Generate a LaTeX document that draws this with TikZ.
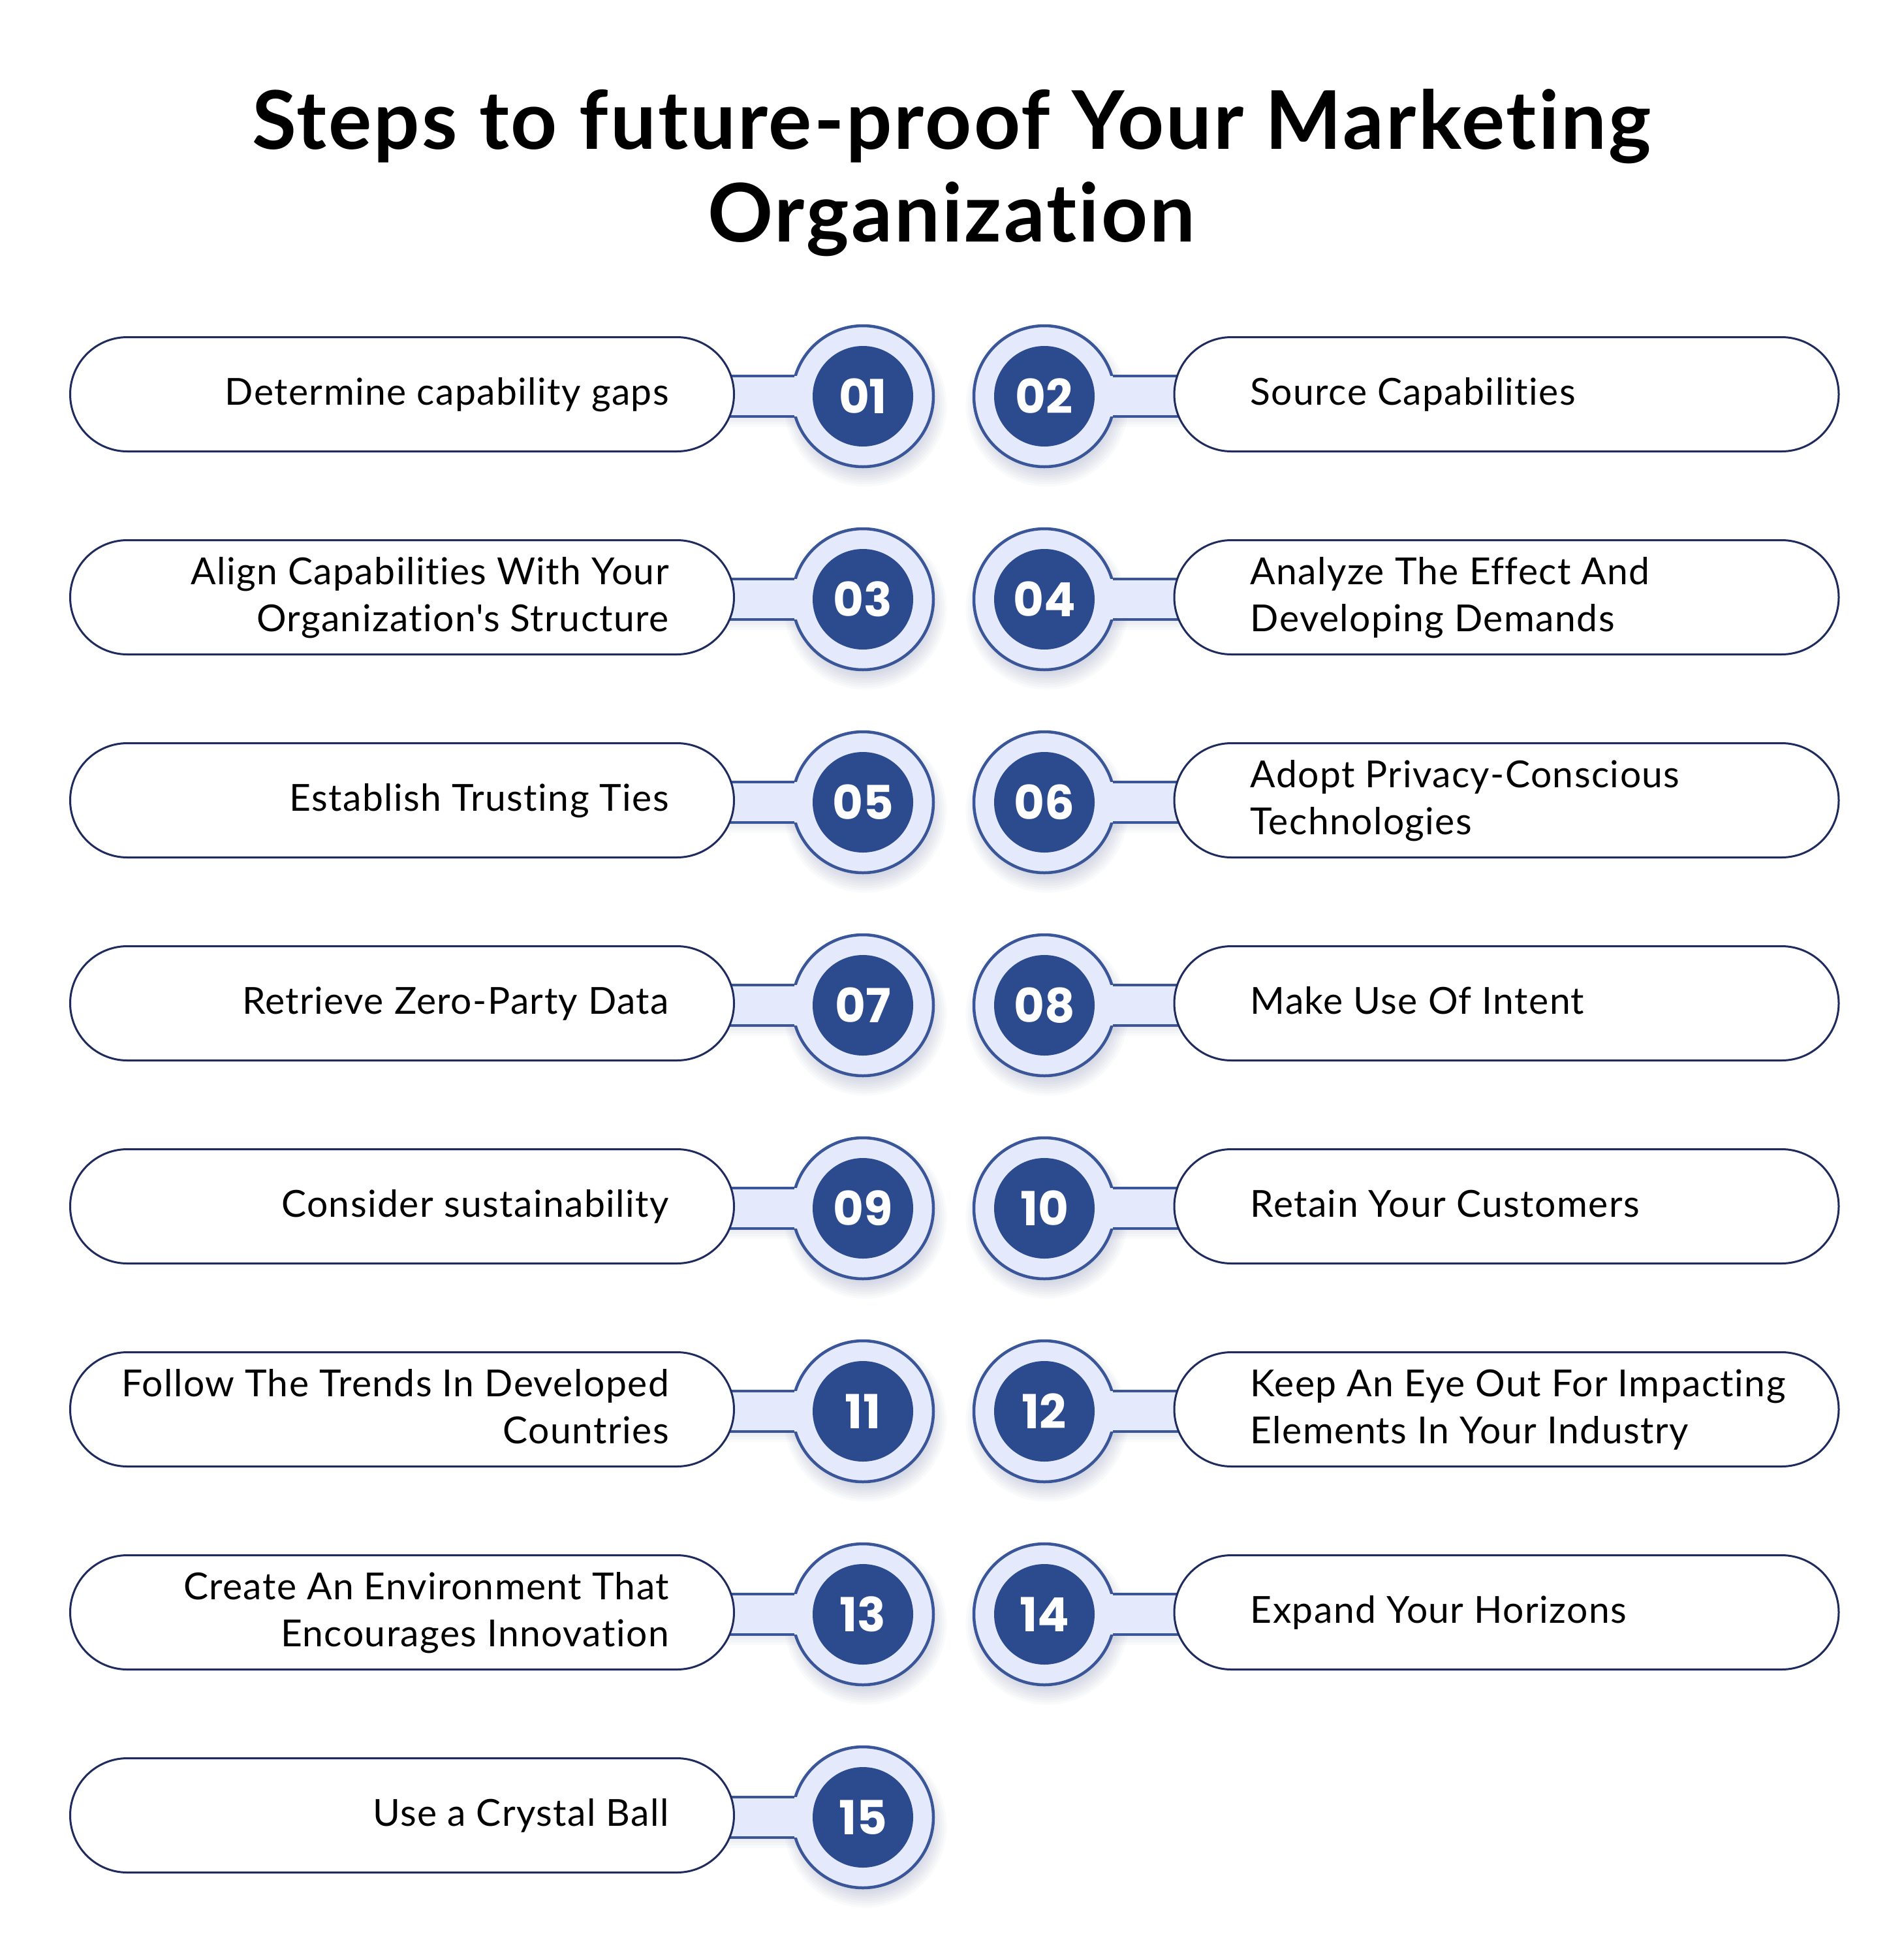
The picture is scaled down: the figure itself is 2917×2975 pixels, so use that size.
\documentclass[tikz,border=0pt]{standalone}
\usepackage{fontspec}
\setmainfont{Lato}[Ligatures={NoCommon}]
\newfontfamily\numfont{Poppins}
\usetikzlibrary{calc}
\definecolor{pillc}{HTML}{1E2B5C}
\definecolor{ringc}{HTML}{3A5699}
\definecolor{lightc}{HTML}{E4E9FB}
\definecolor{darkc}{HTML}{2C4A8E}
\definecolor{shadowc}{HTML}{5A6A9A}
\newcommand\ls{\rule[-18pt]{0pt}{68pt}}
\pgfdeclarelayer{shadowlayer}
\pgfdeclarelayer{ringlayer}
\pgfdeclarelayer{barlayer}
\pgfsetlayers{shadowlayer,ringlayer,barlayer,main}
\begin{document}
\begin{tikzpicture}[x=1pt,y=-1pt,
  pill/.style={draw=pillc, line width=3pt, fill=white, rounded corners=87.5pt,
    minimum height=175pt, inner sep=0pt},
  lpill/.style={pill, minimum width=1017pt},
  rpill/.style={pill, minimum width=1018pt},
  label/.style={inner sep=0pt, font=\fontsize{57}{72}\selectfont\addfontfeature{LetterSpace=2.5}},
  ring/.style={circle, draw=ringc, line width=4.5pt, fill=lightc, minimum size=216pt, inner sep=0pt},
  core/.style={circle, fill=darkc, minimum size=154pt, inner sep=0pt, text=white,
    font=\numfont\fontsize{72}{72}\selectfont\bfseries},
  barline/.style={draw=ringc, line width=4.5pt},
  title/.style={font=\fontsize{124}{142}\selectfont\bfseries\addfontfeature{LetterSpace=2.5}, text=black, inner sep=0pt, anchor=base},
]
\begin{pgfonlayer}{shadowlayer}
\fill[white] (0,0) rectangle (2917,2975);
\end{pgfonlayer}
\useasboundingbox (0,0) rectangle (2917,2975);

\node[title] (t1) at (1458,228) {Steps to future-proof Your Marketing};
\node[title] (t2) at (1458,370) {Organization};

% left column
\foreach \n/\r/\txt in {
  01/0/{\ls Determine capability gaps},
  03/1/{\ls Align Capabilities With Your\\\ls Organization\textquotesingle s Structure},
  05/2/{\ls Establish Trusting Ties},
  07/3/{\ls Retrieve Zero-Party Data},
  09/4/{\ls Consider sustainability},
  11/5/{\ls Follow The Trends In Developed\\\ls Countries},
  13/6/{\ls Create An Environment That\\\ls Encourages Innovation},
  15/7/{\ls Use a Crystal Ball}}{
  \node[lpill] (p\n) at (616,{604+311*\r}) {};
  \node[label, align=right, anchor=east] (l\n) at ($(p\n.east)+(-101,0)$) {\txt};
  \node[core] (n\n) at (1322,{607+311*\r}) {\n};
  \begin{pgfonlayer}{ringlayer}
    \node[ring] (c\n) at (n\n.center) {};
  \end{pgfonlayer}
  \coordinate (bt\n) at ($(c\n.center)+(0,-31)$);
  \coordinate (bb\n) at ($(c\n.center)+(0,31)$);
  \begin{pgfonlayer}{barlayer}
    \fill[lightc] (p\n.center |- bt\n) rectangle (bb\n);
    \draw[barline] (p\n.center |- bt\n) -- (bt\n -| c\n.163);
    \draw[barline] (p\n.center |- bb\n) -- (bb\n -| c\n.197);
  \end{pgfonlayer}
  \begin{pgfonlayer}{shadowlayer}
    \foreach \k in {0,...,7}{
      \fill[shadowc, opacity=0.03] ($(c\n.center)+(4,14)$) circle[radius={100+\k*3.5}];
    }
    \foreach \k in {0,...,3}{
      \fill[shadowc, opacity=0.03] ($(p\n.center |- bb\n)+(0,-10)$) rectangle ($(bb\n)+(0,4+\k*4)$);
    }
  \end{pgfonlayer}
}

% right column
\foreach \n/\r/\txt in {
  02/0/{\ls Source Capabilities},
  04/1/{\ls Analyze The Effect And\\\ls Developing Demands},
  06/2/{\ls Adopt Privacy-Conscious\\\ls Technologies},
  08/3/{\ls Make Use Of Intent},
  10/4/{\ls Retain Your Customers},
  12/5/{\ls Keep An Eye Out For Impacting\\\ls Elements In Your Industry},
  14/6/{\ls Expand Your Horizons}}{
  \node[rpill] (p\n) at (2308,{604+311*\r}) {};
  \node[label, align=left, anchor=west] (l\n) at ($(p\n.west)+(118,0)$) {\txt};
  \node[core] (n\n) at (1600,{607+311*\r}) {\n};
  \begin{pgfonlayer}{ringlayer}
    \node[ring] (c\n) at (n\n.center) {};
  \end{pgfonlayer}
  \coordinate (bt\n) at ($(c\n.center)+(0,-31)$);
  \coordinate (bb\n) at ($(c\n.center)+(0,31)$);
  \begin{pgfonlayer}{barlayer}
    \fill[lightc] (bt\n) rectangle (p\n.center |- bb\n);
    \draw[barline] (bt\n -| c\n.17) -- (p\n.center |- bt\n);
    \draw[barline] (bb\n -| c\n.-17) -- (p\n.center |- bb\n);
  \end{pgfonlayer}
  \begin{pgfonlayer}{shadowlayer}
    \foreach \k in {0,...,7}{
      \fill[shadowc, opacity=0.03] ($(c\n.center)+(4,14)$) circle[radius={100+\k*3.5}];
    }
    \foreach \k in {0,...,3}{
      \fill[shadowc, opacity=0.03] ($(bb\n)+(0,-10)$) rectangle ($(p\n.center |- bb\n)+(0,4+\k*4)$);
    }
  \end{pgfonlayer}
}
\end{tikzpicture}
\end{document}
